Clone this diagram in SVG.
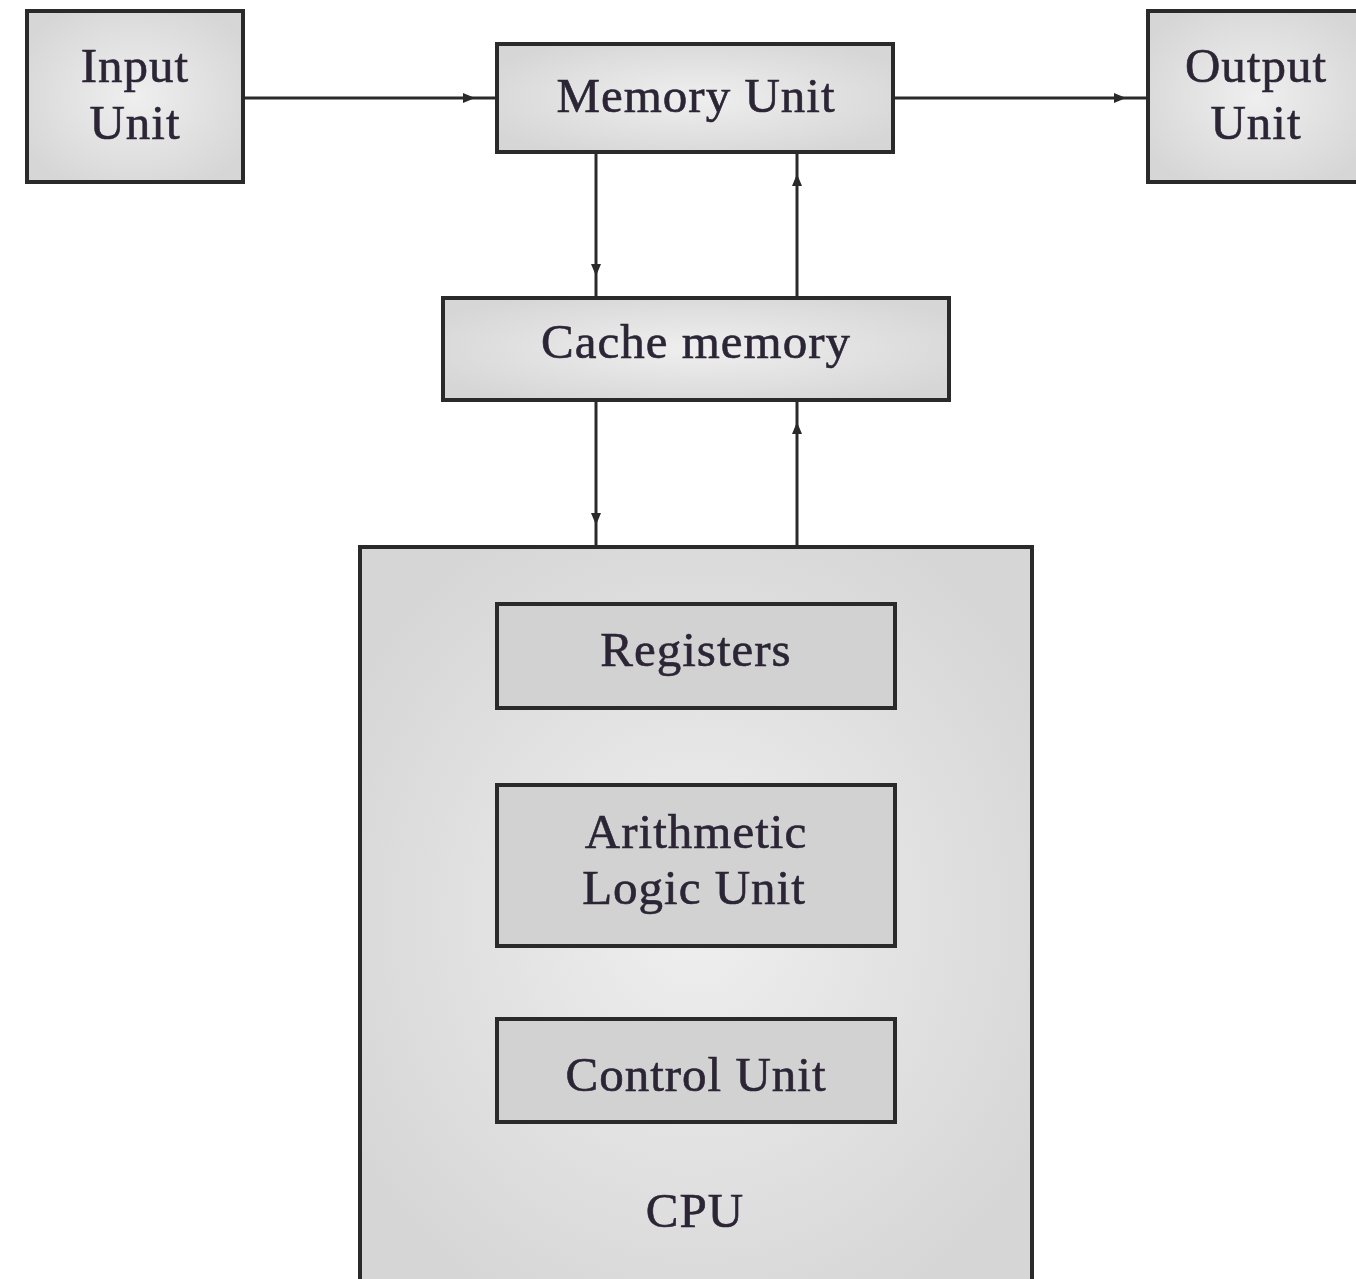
<svg xmlns="http://www.w3.org/2000/svg" width="1356" height="1279" viewBox="0 0 1356 1279">
<defs>
<radialGradient id="g" cx="50%" cy="50%" r="60%">
<stop offset="0" stop-color="#efefef"/>
<stop offset="1" stop-color="#d6d6d6"/>
</radialGradient>
<marker id="ah" markerUnits="userSpaceOnUse" markerWidth="12" markerHeight="10" viewBox="0 0 12 10" refX="34" refY="5" orient="auto" overflow="visible">
<path d="M0,0 L12,5 L0,10 Z" fill="#2a2a2a"/>
</marker>
<style>
.box{fill:url(#g);stroke:#2a2a2a;stroke-width:4}
.inner{fill:#d2d2d2;stroke:#2a2a2a;stroke-width:4}
.t{font-family:"Liberation Serif","DejaVu Serif",serif;font-size:49px;letter-spacing:1px;fill:#2b2535;stroke:#2b2535;stroke-width:0.6px;text-anchor:middle}
.c{stroke:#2a2a2a;stroke-width:3;fill:none;marker-end:url(#ah)}
</style>
</defs>
<rect width="1356" height="1279" fill="#ffffff"/>
<g id="input-unit">
<rect class="box" x="27" y="11" width="216" height="171"/>
<text class="t" x="135" y="82">Input</text>
<text class="t" x="135" y="139">Unit</text>
</g>
<g id="memory-unit">
<rect class="box" x="497" y="44" width="396" height="108"/>
<text class="t" x="696" y="112">Memory Unit</text>
</g>
<g id="output-unit">
<rect class="box" x="1148" y="11" width="216" height="171"/>
<text class="t" x="1256" y="82">Output</text>
<text class="t" x="1256" y="139">Unit</text>
</g>
<g id="cache-memory">
<rect class="box" x="443" y="298" width="506" height="102"/>
<text class="t" x="696" y="358">Cache memory</text>
</g>
<g id="cpu">
<rect class="box" x="360" y="547" width="672" height="740"/>
<text class="t" x="695" y="1227">CPU</text>
</g>
<g id="registers">
<rect class="inner" x="497" y="604" width="398" height="104"/>
<text class="t" x="696" y="666">Registers</text>
</g>
<g id="alu">
<rect class="inner" x="497" y="785" width="398" height="161"/>
<text class="t" x="696" y="848">Arithmetic</text>
<text class="t" x="694" y="904">Logic Unit</text>
</g>
<g id="control-unit">
<rect class="inner" x="497" y="1019" width="398" height="103"/>
<text class="t" x="696" y="1091">Control Unit</text>
</g>
<g id="connectors">
<line class="c" x1="243" y1="98" x2="497" y2="98"/>
<line class="c" x1="893" y1="98" x2="1148" y2="98"/>
<line class="c" x1="596" y1="152" x2="596" y2="298"/>
<line class="c" x1="797" y1="298" x2="797" y2="152"/>
<line class="c" x1="596" y1="400" x2="596" y2="547"/>
<line class="c" x1="797" y1="547" x2="797" y2="400"/>
</g>
</svg>
